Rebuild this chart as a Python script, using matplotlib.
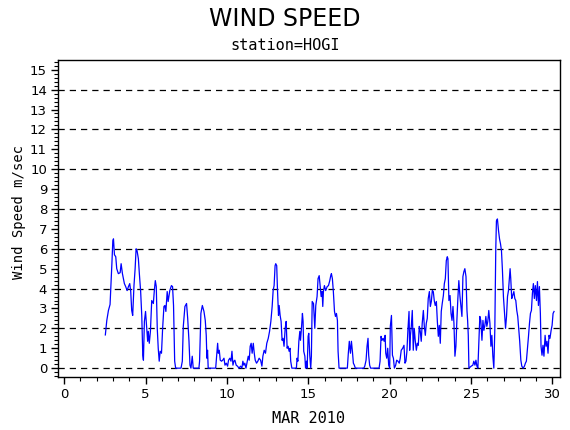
import matplotlib
matplotlib.use('Agg')
from matplotlib import pyplot as plt
from matplotlib.ticker import MultipleLocator

# Hourly-ish wind speed readings, March 2010 (day of month, m/sec)
days = [
    2.53, 2.62, 2.72, 2.82, 2.88, 2.93, 2.99, 3.03, 3.09, 3.17, 3.23, 3.33, 3.44, 3.50,
    3.58, 3.70, 3.78, 3.87, 3.95, 4.03, 4.09, 4.15, 4.21, 4.29, 4.36, 4.42, 4.48, 4.56,
    4.62, 4.70, 4.77, 4.83, 4.87, 4.93, 5.00, 5.07, 5.13, 5.17, 5.23, 5.30, 5.38, 5.48,
    5.54, 5.60, 5.66, 5.72, 5.78, 5.84, 5.90, 5.98, 6.05, 6.13, 6.19, 6.25, 6.33, 6.39,
    6.49, 6.59, 6.66, 6.72, 6.79, 6.85, 7.18, 7.26, 7.32, 7.42, 7.52, 7.59, 7.67, 7.73,
    7.79, 7.87, 7.93, 8.28, 8.32, 8.40, 8.49, 8.59, 8.67, 8.73, 8.77, 8.81, 8.85, 9.31,
    9.37, 9.43, 9.47, 9.53, 9.59, 9.67, 9.74, 9.82, 9.88, 9.96, 10.04, 10.10, 10.18, 10.25,
    10.31, 10.37, 10.43, 10.49, 10.57, 10.65, 10.74, 10.84, 10.92, 10.98, 11.04, 11.10,
    11.17, 11.23, 11.31, 11.37, 11.43, 11.49, 11.55, 11.62, 11.68, 11.74, 11.82, 11.90,
    11.98, 12.07, 12.15, 12.21, 12.29, 12.37, 12.45, 12.54, 12.62, 12.70, 12.78, 12.84,
    12.90, 12.96, 13.00, 13.06, 13.10, 13.17, 13.21, 13.27, 13.33, 13.39, 13.45, 13.51,
    13.58, 13.64, 13.70, 13.76, 13.82, 13.88, 13.92, 13.99, 14.27, 14.31, 14.36, 14.42,
    14.48, 14.52, 14.58, 14.64, 14.68, 14.72, 14.79, 14.83, 14.89, 14.93, 14.99, 15.03,
    15.09, 15.15, 15.19, 15.24, 15.32, 15.40, 15.46, 15.54, 15.60, 15.67, 15.73, 15.79,
    15.85, 15.89, 15.93, 15.99, 16.07, 16.16, 16.24, 16.32, 16.38, 16.42, 16.48, 16.54,
    16.61, 16.67, 16.73, 16.79, 16.83, 16.89, 17.40, 17.46, 17.52, 17.59, 17.65, 17.71,
    17.77, 17.83, 17.89, 18.41, 18.47, 18.55, 18.61, 18.67, 18.71, 18.77, 18.83, 19.35,
    19.41, 19.47, 19.53, 19.60, 19.66, 19.72, 19.76, 19.82, 19.88, 19.94, 20.00, 20.04,
    20.11, 20.17, 20.23, 20.29, 20.37, 20.43, 20.51, 20.59, 20.65, 20.71, 20.80, 20.88,
    20.94, 21.00, 21.06, 21.12, 21.19, 21.23, 21.27, 21.33, 21.39, 21.45, 21.51, 21.57,
    21.64, 21.70, 21.76, 21.82, 21.88, 21.94, 22.00, 22.07, 22.13, 22.19, 22.25, 22.31,
    22.37, 22.44, 22.50, 22.56, 22.62, 22.68, 22.74, 22.80, 22.87, 22.93, 22.99, 23.05,
    23.11, 23.17, 23.23, 23.30, 23.36, 23.42, 23.48, 23.54, 23.58, 23.64, 23.71, 23.77,
    23.83, 23.89, 23.95, 24.01, 24.07, 24.13, 24.19, 24.25, 24.32, 24.38, 24.44, 24.50,
    24.56, 24.62, 24.69, 24.75, 24.79, 24.83, 24.87, 25.01, 25.11, 25.17, 25.24, 25.30,
    25.36, 25.42, 25.48, 25.54, 25.60, 25.67, 25.73, 25.79, 25.85, 25.91, 25.97, 26.03,
    26.09, 26.16, 26.22, 26.28, 26.34, 26.40, 26.46, 26.52, 26.56, 26.62, 26.69, 26.75,
    26.81, 26.87, 26.93, 26.99, 27.06, 27.12, 27.18, 27.24, 27.30, 27.36, 27.40, 27.44,
    27.50, 27.56, 27.63, 27.69, 27.75, 27.81, 27.87, 27.93, 27.99, 28.06, 28.12, 28.20,
    28.28, 28.34, 28.40, 28.46, 28.53, 28.59, 28.65, 28.71, 28.77, 28.83, 28.89, 28.95,
    29.02, 29.08, 29.14, 29.20, 29.26, 29.30, 29.36, 29.42, 29.48, 29.55, 29.61, 29.67,
    29.73, 29.79, 29.85, 29.92, 29.98, 30.04, 30.10,
]
speed = [
    1.67, 2.4, 2.9, 3.2, 4.25, 5.2, 6.4, 6.5, 5.7, 5.6, 5.0, 4.75, 4.8, 5.25,
    4.75, 4.25, 4.1, 3.9, 4.1, 4.25, 3.85, 2.9, 2.65, 4.15, 5.0, 6.0, 5.9, 5.5,
    4.75, 3.85, 2.6, 0.65, 0.4, 2.35, 2.85, 2.0, 1.35, 1.85, 1.25, 1.85, 3.4, 3.25,
    3.9, 4.4, 4.1, 2.0, 1.0, 0.35, 0.85, 0.75, 2.0, 3.1, 3.15, 2.85, 3.85, 3.35,
    3.9, 4.15, 4.1, 3.15, 0.35, 0.0, 0.0, 0.35, 2.1, 3.1, 3.25, 2.5, 1.35, 0.15,
    0.0, 0.6, 0.0, 0.0, 0.35, 2.75, 3.15, 2.85, 2.4, 1.65, 0.5, 0.9, 0.0, 0.0,
    0.6, 1.25, 0.75, 0.9, 0.4, 0.35, 0.4, 0.5, 0.15, 0.25, 0.1, 0.4, 0.5, 0.35,
    0.85, 0.15, 0.35, 0.4, 0.15, 0.1, 0.0, 0.1, 0.0, 0.35, 0.15, 0.25,
    0.0, 0.25, 0.6, 0.4, 1.1, 1.25, 0.75, 1.25, 0.75, 0.4, 0.25, 0.35,
    0.5, 0.4, 0.1, 0.6, 0.9, 0.75, 1.25, 1.5, 1.85, 2.35, 3.1, 3.9,
    4.15, 5.15, 5.25, 5.15, 4.1, 2.65, 3.15, 2.65, 2.35, 1.4, 1.5, 1.1,
    2.0, 2.35, 1.0, 1.1, 0.85, 1.0, 0.35, 0.0, 0.0, 0.5, 0.35, 1.35,
    1.85, 1.4, 2.0, 2.75, 2.35, 0.85, 0.6, 0.0, 0.35, 0.0, 1.6, 1.75,
    0.65, 0.0, 0.6, 3.35, 3.25, 2.0, 3.15, 3.6, 4.5, 4.65, 4.15, 3.6,
    3.85, 3.1, 3.85, 4.15, 3.9, 4.1, 4.15, 4.4, 4.65, 4.75, 4.5, 3.85,
    2.85, 2.6, 2.75, 2.4, 0.85, 0.0, 0.0, 0.75, 1.35, 0.75, 1.35, 0.85,
    0.25, 0.15, 0.0, 0.0, 0.1, 0.4, 1.1, 1.5, 0.65, 0.15, 0.0, 0.0,
    0.35, 1.6, 1.4, 1.5, 1.35, 1.65, 0.75, 0.5, 1.0, 0.15, 0.0, 2.1,
    2.65, 0.65, 0.5, 0.0, 0.15, 0.4, 0.35, 0.25, 0.5, 0.9, 1.0, 1.15,
    0.25, 0.35, 0.85, 1.9, 2.85, 0.9, 1.6, 2.1, 2.9, 0.9, 2.0, 1.4,
    0.9, 1.25, 1.15, 2.1, 1.85, 1.35, 2.25, 2.9, 2.1, 1.65, 2.25, 2.5,
    3.5, 3.85, 3.1, 3.35, 3.9, 3.85, 3.4, 3.15, 3.35, 2.35, 1.6, 2.15,
    1.25, 2.85, 3.25, 3.65, 4.25, 4.5, 5.4, 5.6, 5.5, 3.4, 3.65, 2.75,
    2.4, 3.1, 2.25, 0.6, 1.1, 2.4, 3.5, 4.4, 3.6, 3.1, 2.6, 4.6,
    4.85, 5.0, 4.6, 2.9, 2.4, 1.65, 0.0, 0.1, 0.15, 0.35, 0.15, 0.4,
    0.1, 0.0, 1.25, 2.6, 2.4, 1.4, 2.4, 1.9, 2.15, 2.6, 2.1, 2.35,
    2.9, 2.25, 1.1, 1.65, 0.6, 0.0, 1.9, 6.0, 7.4, 7.5, 6.9, 6.5,
    6.25, 5.9, 4.9, 3.6, 2.75, 2.0, 2.6, 3.6, 3.9, 4.6, 5.0, 4.5,
    3.5, 3.65, 3.85, 3.5, 3.4, 2.9, 2.6, 2.0, 1.35, 0.4, 0.1, 0.0,
    0.1, 0.25, 0.35, 0.9, 1.6, 2.25, 2.75, 2.9, 3.75, 4.25, 3.5, 4.15,
    3.4, 4.35, 3.15, 4.1, 2.75, 1.1, 0.65, 1.15, 0.6, 1.65, 1.1, 1.35,
    0.75, 1.65, 1.5, 1.9, 2.15, 2.75, 2.85,
]

fig = plt.figure(figsize=(5.7, 4.3), dpi=100)
ax = fig.add_axes([0.102, 0.123, 0.880, 0.738])

ax.plot(days, speed, c='blue', lw=0.9)

# dashed reference lines every 2 m/sec
for level in range(0, 15, 2):
    ax.axhline(level, color='black', lw=0.9, ls=(0, (5, 4)), zorder=0)

ax.set_xlim(-0.37, 30.45)
ax.set_ylim(-0.45, 15.5)
ax.xaxis.set_major_locator(MultipleLocator(5))
ax.xaxis.set_minor_locator(MultipleLocator(1))
ax.yaxis.set_major_locator(MultipleLocator(1))
ax.yaxis.set_minor_locator(MultipleLocator(0.2))
ax.tick_params(axis='both', which='major', direction='out', length=5, width=1,
               labelsize=9.5, pad=3)
ax.tick_params(axis='both', which='minor', direction='out', length=3, width=0.8)
for spine in ax.spines.values():
    spine.set_linewidth(1)

mono = 'DejaVu Sans Mono'
ax.set_xlabel('MAR 2010', fontsize=11, family=mono, labelpad=7)
ax.set_ylabel('Wind Speed m/sec', fontsize=10, family=mono)
ax.yaxis.set_label_coords(-0.064, 0.52)

fig.text(0.5, 0.955, 'WIND SPEED', ha='center', va='center', fontsize=17)
fig.text(0.5, 0.895, 'station=HOGI', ha='center', va='center', fontsize=11, family=mono)

plt.savefig('out.png', dpi=100)
